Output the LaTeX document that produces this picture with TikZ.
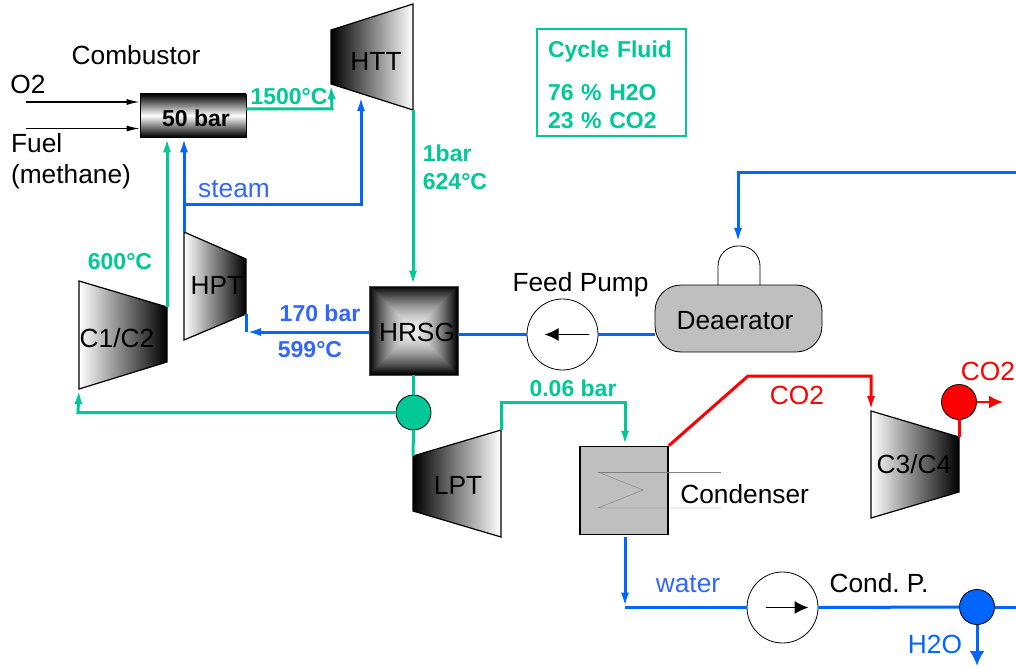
\documentclass[tikz,border=0pt]{standalone}
\usepackage{fontspec}
\setmainfont{Liberation Sans}
\usetikzlibrary{arrows.meta,positioning}
\definecolor{cycgreen}{HTML}{00C896}
\definecolor{wblue}{HTML}{0066FF}
\definecolor{tblue}{HTML}{3366FF}
\frenchspacing
\begin{document}
\begin{tikzpicture}[
        x=1pt, y=-1pt,
        node distance=1cm,
        every node/.style={align=center, font=\fontsize{26.3}{31}\selectfont},
        lab/.style={font=\fontsize{23}{28}\selectfont\bfseries},
        turb/.style={draw, line width=1.2pt},
        tocold/.style={turb, left color=white, middle color=black!38, right color=black},
        tohot/.style={turb, left color=black, middle color=black!38, right color=white},
        pump/.style={draw, circle, thick, fill=white, minimum size=71pt, inner sep=0pt},
        split/.style={draw, circle, thick, minimum size=35pt, inner sep=0pt},
        gline/.style={cycgreen, line width=3pt},
        bline/.style={wblue, line width=3pt},
        rline/.style={red, line width=3pt},
        tip/.style={-{Latex[length=15pt,width=8pt]}},
        ptip/.style={-{Latex[length=14pt,width=13pt]}, line width=1.5pt}
      ]
    \useasboundingbox (0,0) rectangle (1016,668);
    % turbines and compressors
    \coordinate (httA) at (331,30);
    \coordinate (httB) at (413,4);
    \coordinate (httC) at (413,110);
    \coordinate (httD) at (331,84);
    \draw[tohot] (httA) -- (httB) -- (httC) -- (httD) -- cycle;
    \node (htt) at (376,61) {HTT};
    \coordinate (hptA) at (184,232);
    \coordinate (hptB) at (246,259);
    \coordinate (hptC) at (246,314);
    \coordinate (hptD) at (184,340);
    \draw[tocold] (hptA) -- (hptB) -- (hptC) -- (hptD) -- cycle;
    \node (hpt) at (217,285) {HPT};
    \coordinate (cA) at (79,281);
    \coordinate (cB) at (167,307);
    \coordinate (cC) at (167,362);
    \coordinate (cD) at (79,389);
    \draw[tocold] (cA) -- (cB) -- (cC) -- (cD) -- cycle;
    \node (cone) at (117,338) {C1/C2};
    \coordinate (lptA) at (413,456);
    \coordinate (lptB) at (501,430);
    \coordinate (lptC) at (501,537);
    \coordinate (lptD) at (413,511);
    \draw[tohot] (lptA) -- (lptB) -- (lptC) -- (lptD) -- cycle;
    \node (lpt) at (458,485) {LPT};
    \coordinate (ctA) at (871,411);
    \coordinate (ctB) at (959,437);
    \coordinate (ctC) at (959,492);
    \coordinate (ctD) at (871,518);
    \draw[tocold] (ctA) -- (ctB) -- (ctC) -- (ctD) -- cycle;
    \node (cthree) at (914,464) {C3/C4};
    % vessels
    \node[draw, thick, top color=black, bottom color=black, middle color=white,
    minimum width=106pt, minimum height=43pt, inner sep=0pt] (comb) at (193,115.5) {};
    \node[lab] (combt) at (196,118) {50 bar};
    \foreach \i in {0,...,44} {
      \pgfmathsetmacro{\sh}{8+92*(1-\i/44)^1.7}
      \fill[black!\sh] (369+\i,286+\i) rectangle (458-\i,375-\i);
    }
    \node[draw=black!70, thick, minimum size=89pt, inner sep=0pt] (hrsg) at (413.5,330.5) {};
    \node (hrsgt) at (417,332) {HRSG};
    \node[draw, line width=1.5pt, fill=gray!50, minimum size=88pt, inner sep=0pt] (cond) at (624,490.5) {};
    \draw[gray, thin] (598,472) -- (721,472);
    \draw[gray, thin] (598,472) -- (643,490) -- (598,508) -- (721,508);
    \node[right=8pt of cond, yshift=-4pt] (condl) {Condenser};
    \node[draw, thick, fill=gray!50, rounded corners=26pt, minimum width=167pt, minimum height=67pt] (dea) at (738.5,318.5) {};
    \node (deat) at (735,321) {Deaerator};
    \draw[thick, rounded corners=20pt] (718,285) -- (718,246) -- (760,246) -- (760,285);
    \node[pump] (feedp) at (562.5,334.5) {};
    \node[above of=feedp, node distance=50pt] (feedl) {\hspace{36pt}Feed Pump};
    \node[pump] (condp) at (782.5,607.5) {};
    \node[split, fill=cycgreen] (gsplit) at (413.5,412.5) {};
    \node[split, fill=red] (rsplit) at (959,402) {};
    \node[split, fill=wblue] (bsplit) at (977,607) {};
    \draw[ptip] ([xshift=26pt]feedp.center) -- ([xshift=-18pt]feedp.center);
    \draw[ptip] ([xshift=-17pt]condp.center) -- ([xshift=26pt]condp.center);
    % cycle fluid
    \node[draw=cycgreen, line width=2pt, lab, text=cycgreen, align=left, text width=127pt,
    inner xsep=11pt, minimum height=107pt] (fluid) at (611.5,82.5)
    {\rule{0pt}{22pt}Cycle Fluid\\[15pt]76 \% H2O\\23 \% CO2};
    % inlets
    \coordinate (otwo) at (26,102);
    \coordinate (fuel) at (26,128.5);
    \draw[line width=1.2pt, -{Latex[length=13pt,width=6pt]}] (otwo) -- (comb.west |- otwo);
    \draw[line width=1.2pt, -{Latex[length=13pt,width=6pt]}] (fuel) -- (comb.west |- fuel);
    \node (combl) at (136,55) {Combustor};
    \node (otwol) at (28,84) {O2};
    \node[align=left] (fuell) at (71,161) {Fuel\\(methane)};
    % green lines
    \coordinate (cout) at (332,109);
    \draw[gline, tip] (comb.east |- cout) -- (cout) -- (httD);
    \draw[gline, tip] (httC) -- (hrsg.north -| httC);
    \draw[gline] (hrsg.south) -- (gsplit.north);
    \draw[gline] (gsplit.south) -- (lptA);
    \coordinate (cback) at (78,412.5);
    \draw[gline, tip] (gsplit.west) -- (cback) -- (cD);
    \draw[gline, tip] (cB) -- (comb.south -| cB);
    \coordinate (lpA) at (501,402);
    \coordinate (lpB) at (625,402);
    \draw[gline, tip] (lptB) -- (lpA) -- (lpB) -- (cond.north -| lpB);
    \node[lab, text=cycgreen] (tcomb) at (289,97) {1500°C};
    \node[lab, text=cycgreen, align=left] (texh) at (455,167) {1bar\\ 624°C};
    \node[lab, text=cycgreen] (tcout) at (120,262) {600°C};
    \node[lab, text=cycgreen] (pcond) at (573,388) {0.06 bar};
    % blue lines
    \coordinate (stJ) at (184,205);
    \coordinate (stT) at (361,205);
    \coordinate (stH) at (361,96);
    \draw[bline, tip] (stJ) -- (stT) -- (stH);
    \draw[bline, tip] (hptA) -- (comb.south -| hptA);
    \coordinate (hpin) at (246,332);
    \draw[bline] (hpin) -- (hptC);
    \draw[bline, tip] (hrsg.west |- hpin) -- (hpin);
    \draw[bline] (feedp.west) -- (feedp.west -| hrsg.east);
    \draw[bline] (dea.west |- feedp) -- (feedp.east);
    \coordinate (retA) at (1016,173);
    \coordinate (retB) at (738,173);
    \coordinate (retC) at (738,243);
    \draw[bline, tip] (retA) -- (retB) -- (retC);
    \coordinate (wtA) at (625,537);
    \coordinate (wtB) at (625,607.5);
    \draw[bline, tip] (wtA) -- (wtB);
    \draw[bline] (wtB) -- (condp.west);
    \draw[bline] (condp.east) -- (bsplit.west);
    \coordinate (wtE) at (1016,607);
    \draw[bline] (bsplit.east) -- (wtE);
    \coordinate (wtO) at (977,666);
    \draw[bline, -{Latex[length=15pt,width=15pt]}] (bsplit.south) -- (wtO);
    \node[text=tblue] (steam) at (234,189) {steam};
    \node[lab, text=tblue] (thpa) at (320,313) {170 bar};
    \node[lab, text=tblue] (thpb) at (310,350) {599°C};
    \node[text=tblue] (water) at (688,584) {water};
    \node[text=wblue] (htwo) at (935,644) {H2O};
    \node (condpl) at (879,583) {Cond. P.};
    % red lines
    \coordinate (coA) at (748,376);
    \coordinate (coB) at (871,376);
    \draw[rline, tip] (cond.north east) -- (coA) -- (coB) -- (ctA);
    \draw[rline] (ctB -| rsplit) -- (rsplit.south);
    \coordinate (coO) at (1003,402);
    \draw[red, line width=2pt, -{Latex[length=14pt,width=13pt]}] (rsplit.east) -- (coO);
    \node[text=red] (tcoa) at (797,395) {CO2};
    \node[text=red] (tcob) at (988,371) {CO2};
      \end{tikzpicture}
\end{document}
